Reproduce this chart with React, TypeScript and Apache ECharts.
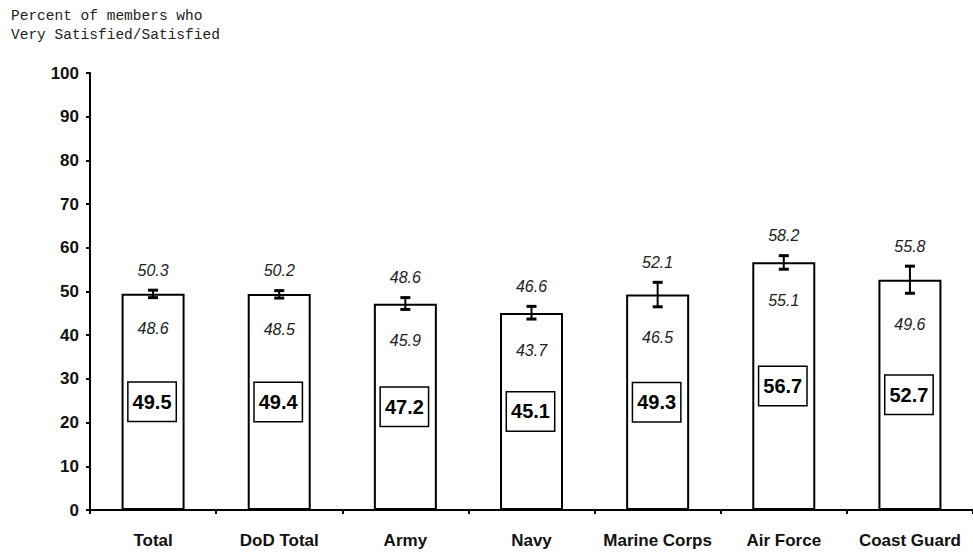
import React, { useEffect, useRef } from "react";
import * as echarts from "echarts";

const categories = ["Total", "DoD Total", "Army", "Navy", "Marine Corps", "Air Force", "Coast Guard"];
const values = [49.5, 49.4, 47.2, 45.1, 49.3, 56.7, 52.7];
const upper = [50.3, 50.2, 48.6, 46.6, 52.1, 58.2, 55.8];
const lower = [48.6, 48.5, 45.9, 43.7, 46.5, 55.1, 49.6];
const titleLines = ["Percent of members who", "Very Satisfied/Satisfied"];

const SANS = "Arial, 'Liberation Sans', sans-serif";
const MONO = "'Courier New', 'Liberation Mono', monospace";

export default function App() {
  const ref = useRef<HTMLDivElement>(null);
  useEffect(() => {
    if (!ref.current) return;
    const chart = echarts.init(ref.current, null, { renderer: "svg" });
    const errData = categories.map((_, i) => [i, lower[i], upper[i]]);
    chart.setOption({
      animation: false,
      backgroundColor: "#fff",
      graphic: [
        {
          type: "text",
          left: 11,
          top: 6,
          style: {
            text: titleLines.join("\n"),
            font: `14.5px ${MONO}`,
            lineHeight: 19,
            fill: "#222",
          },
        },
      ],
      grid: { left: 90, top: 73, width: 887, height: 437 },
      xAxis: {
        type: "category",
        data: categories,
        axisLine: { show: true, lineStyle: { color: "#000", width: 2 } },
        axisTick: { show: true, length: 4, lineStyle: { color: "#000", width: 2 } },
        axisLabel: {
          interval: 0,
          margin: 22,
          fontFamily: SANS,
          fontSize: 17,
          fontWeight: "bold",
          color: "#111",
        },
        splitLine: { show: false },
      },
      yAxis: {
        type: "value",
        min: 0,
        max: 100,
        interval: 10,
        axisLine: { show: true, lineStyle: { color: "#000", width: 2 } },
        axisTick: { show: true, length: 4, lineStyle: { color: "#000", width: 2 } },
        axisLabel: {
          margin: 11,
          fontFamily: SANS,
          fontSize: 17,
          fontWeight: "bold",
          color: "#111",
        },
        splitLine: { show: false },
      },
      series: [
        {
          type: "bar",
          data: values,
          barWidth: 63,
          itemStyle: { color: "#fff", borderColor: "#000", borderWidth: 2 },
          label: {
            show: true,
            position: "inside",
            offset: [-1, 0],
            formatter: (p: any) => Number(p.value).toFixed(1),
            fontFamily: SANS,
            fontSize: 20,
            fontWeight: "bold",
            color: "#000",
            lineHeight: 21,
            backgroundColor: "#fff",
            borderColor: "#000",
            borderWidth: 1.5,
            padding: [9, 4, 8, 4],
          },
          z: 2,
        },
        {
          type: "custom",
          data: errData,
          z: 5,
          renderItem: (params: any, api: any) => {
            const idx = api.value(0);
            const lo = api.value(1);
            const hi = api.value(2);
            const pHi = api.coord([idx, hi]);
            const pLo = api.coord([idx, lo]);
            const cx = pHi[0];
            return {
              type: "group",
              children: [
                {
                  type: "line",
                  shape: { x1: cx, y1: pHi[1], x2: cx, y2: pLo[1] },
                  style: { stroke: "#000", lineWidth: 2 },
                },
                {
                  type: "line",
                  shape: { x1: cx - 5, y1: pHi[1], x2: cx + 5, y2: pHi[1] },
                  style: { stroke: "#000", lineWidth: 3 },
                },
                {
                  type: "line",
                  shape: { x1: cx - 5, y1: pLo[1], x2: cx + 5, y2: pLo[1] },
                  style: { stroke: "#000", lineWidth: 3 },
                },
                {
                  type: "text",
                  style: {
                    text: Number(hi).toFixed(1),
                    x: cx,
                    y: pHi[1] - 20,
                    align: "center",
                    verticalAlign: "middle",
                    font: `italic 16px ${SANS}`,
                    fill: "#222",
                  },
                },
                {
                  type: "text",
                  style: {
                    text: Number(lo).toFixed(1),
                    x: cx,
                    y: pLo[1] + 31,
                    align: "center",
                    verticalAlign: "middle",
                    font: `italic 16px ${SANS}`,
                    fill: "#222",
                  },
                },
              ],
            };
          },
        },
      ],
    });
    return () => chart.dispose();
  }, []);
  return (
    <div
      ref={ref}
      style={{ position: "absolute", left: 0, top: 0, width: 973, height: 553 }}
    />
  );
}
